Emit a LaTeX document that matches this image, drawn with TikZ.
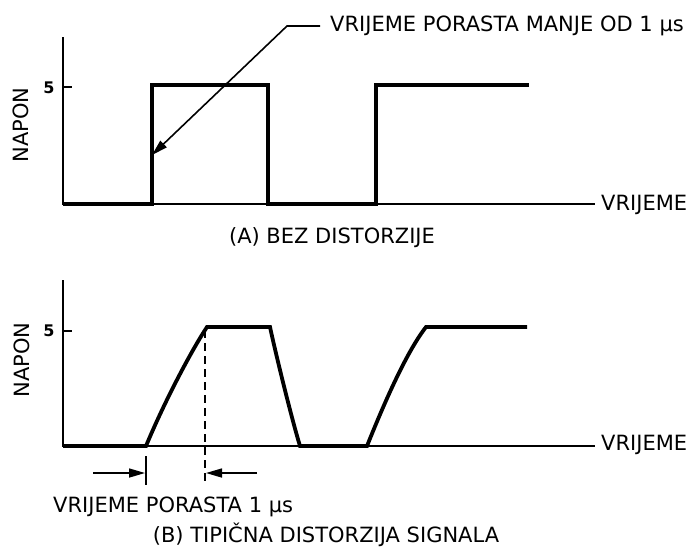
\documentclass[tikz,border=0pt]{standalone}
\usepackage{fontspec}
\setmainfont{DejaVu Sans}
\usetikzlibrary{arrows.meta}
\begin{document}
\begin{tikzpicture}[x=1pt,y=-1pt,
  axisline/.style={line width=2.4pt},
  sigline/.style={line width=3.8pt,line join=miter},
  lbl/.style={font=\fontsize{21}{24}\selectfont,inner sep=0pt},
  fivelbl/.style={font=\fontsize{16}{18}\selectfont\bfseries,inner sep=0pt},
  arr/.style={line width=1.6pt,-{Triangle[length=16pt,width=9pt]}}]
\useasboundingbox (0,0) rectangle (692,547);
% ---------- (A) ----------
\coordinate (aTop) at (63,37);
\coordinate (aO) at (63,204);
\coordinate (aEnd) at (595,204);
\draw[axisline] (aTop) -- (aO) -- (aEnd);
\draw[axisline] (63,87) -- (72,87);
\node[fivelbl] (a5) at (49,88) {5};
\node[lbl,anchor=west] (aV) at (601,205) {VRIJEME};
\node[lbl,rotate=90] (aN) at (21,125) {NAPON};
\draw[sigline] (63,204) -- (152,204) -- (152,85) -- (268,85) -- (268,204) -- (376,204) -- (376,85) -- (529,85);
\node[lbl,anchor=west] (aLab) at (330,26) {VRIJEME PORASTA MANJE OD 1 \textmu s};
\coordinate (aTip) at (152,155);
\draw[arr] (aLab.west) ++(-10,0) -- ++(-33,0) -- (aTip);
\node[lbl] (aCap) at (332,238) {(A) BEZ DISTORZIJE};
% ---------- (B) ----------
\coordinate (bTop) at (63,280);
\coordinate (bO) at (63,446);
\coordinate (bEnd) at (595,446);
\draw[axisline] (bTop) -- (bO) -- (bEnd);
\draw[axisline] (63,331) -- (72,331);
\node[fivelbl] (b5) at (49,331) {5};
\node[lbl,anchor=west] (bV) at (601,445) {VRIJEME};
\node[lbl,rotate=90] (bN) at (22,360) {NAPON};
\coordinate (bR0) at (146,446);
\coordinate (bR1) at (207,327);
\draw[sigline] (63,446) -- (bR0) .. controls (166,398) and (193,348) .. (bR1) -- (270,327)
  .. controls (276,355) and (292,420) .. (300,446) -- (367,446)
  .. controls (387,396) and (408,350) .. (426,327) -- (527,327);
\draw[line width=1.9pt,dash pattern=on 8pt off 5pt] (205,330) -- (205,485);
\draw[line width=1.9pt] (146,456) -- (146,485);
\coordinate (ar1) at (93,473);
\coordinate (ar2) at (257,473);
\draw[arr] (ar1) -- (145,473);
\draw[arr] (ar2) -- (206,473);
\node[lbl,anchor=west] (bRise) at (53,507) {VRIJEME PORASTA 1 \textmu s};
\node[lbl] (bCap) at (326,535) {(B) TIPIČNA DISTORZIJA SIGNALA};
\end{tikzpicture}
\end{document}
